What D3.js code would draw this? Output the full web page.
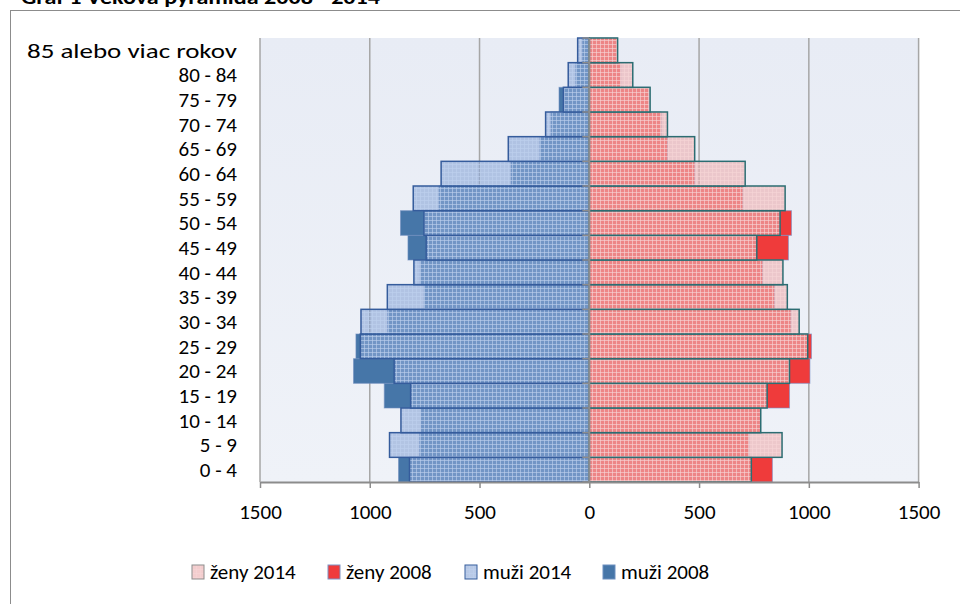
<!DOCTYPE html>
<meta charset="utf-8">
<script src="https://d3js.org/d3.v7.min.js"></script>
<style>
  body { margin: 0; background: #fff; }
  text { font-family: Carlito, Calibri, Lato, sans-serif; fill: #000; }
</style>
<div id="chart"></div>
<script>

// age groups, bottom to top
var categories = ["0 - 4", "5 - 9", "10 - 14", "15 - 19", "20 - 24", "25 - 29", "30 - 34",
  "35 - 39", "40 - 44", "45 - 49", "50 - 54", "55 - 59", "60 - 64", "65 - 69",
  "70 - 74", "75 - 79", "80 - 84", "85 alebo viac rokov"];

var muzi2014 = [819, 910, 858, 814, 889, 1043, 1040, 920, 799, 743, 753, 802, 675, 369, 199, 118, 96, 53];
var muzi2008 = [869, 773, 767, 934, 1074, 1063, 919, 752, 770, 826, 860, 685, 357, 225, 175, 138, 62, 32];
var zeny2014 = [738, 878, 781, 810, 912, 995, 956, 902, 882, 763, 869, 892, 710, 480, 356, 277, 198, 129];
var zeny2008 = [834, 727, 779, 912, 1005, 1012, 918, 843, 789, 907, 921, 699, 480, 356, 327, 272, 143, 128];

var xTicks = [-1500, -1000, -500, 0, 500, 1000, 1500];
var legendItems = ["ženy 2014", "ženy 2008", "muži 2014", "muži 2008"];

var W = 960, H = 604;
var plot = {left: 260, right: 918.6, top: 38, bottom: 482};

var svg = d3.select("#chart").append("svg")
    .attr("width", W)
    .attr("height", H);

var defs = svg.append("defs");

// background gradient of the plot area
var grad = defs.append("linearGradient").attr("id", "bg").attr("x1", 0).attr("y1", 0).attr("x2", 0).attr("y2", 1);
grad.append("stop").attr("offset", "0%").attr("stop-color", "#e8ecf5");
grad.append("stop").attr("offset", "100%").attr("stop-color", "#eff2f8");

// small grid patterns for the 2014 bars (semi transparent)
function gridPattern(id, base, line) {
  var p = defs.append("pattern").attr("id", id)
      .attr("width", 4).attr("height", 4)
      .attr("patternUnits", "userSpaceOnUse");
  p.append("rect").attr("width", 4).attr("height", 4).attr("fill", base);
  p.append("rect").attr("width", 4).attr("height", 1).attr("fill", line);
  p.append("rect").attr("width", 1).attr("height", 4).attr("fill", line);
}
gridPattern("patM", "rgba(140,168,214,0.62)", "rgba(190,208,238,0.62)");
gridPattern("patZ", "rgba(236,176,178,0.63)", "rgba(246,212,214,0.63)");

// chart frame + title
svg.append("rect")
    .attr("x", 10.5).attr("y", 10.5)
    .attr("width", 1000).attr("height", 700)
    .attr("fill", "#fff")
    .attr("stroke", "#8c8c8c");

svg.append("text")
    .attr("x", 21).attr("y", 4)
    .attr("textLength", 359)
    .attr("lengthAdjust", "spacingAndGlyphs")
    .style("font-size", "21px")
    .style("font-weight", "bold")
    .text("Graf 1 Veková pyramída 2008 - 2014");

var x = d3.scaleLinear().domain([-1500, 1500]).range([plot.left, plot.right]);
var y = d3.scaleBand().domain(categories.slice().reverse()).range([plot.top, plot.bottom]).padding(0);

svg.append("rect")
    .attr("x", plot.left).attr("y", plot.top)
    .attr("width", plot.right - plot.left).attr("height", plot.bottom - plot.top)
    .attr("fill", "url(#bg)");

// vertical gridlines
svg.append("g").selectAll("line")
  .data(xTicks.filter(function(d) { return d !== 0; }))
  .enter().append("line")
    .attr("x1", function(d) { return x(d); })
    .attr("x2", function(d) { return x(d); })
    .attr("y1", plot.top).attr("y2", plot.bottom)
    .attr("stroke", "#a6a6a6")
    .attr("stroke-width", 1.5);

var rows = categories.map(function(c, i) {
  return {cat: c, m14: muzi2014[i], m08: muzi2008[i], z14: zeny2014[i], z08: zeny2008[i]};
});

var bars = svg.append("g");

// 2008 solid bars first
bars.selectAll(".m08").data(rows).enter().append("rect")
    .attr("x", function(d) { return x(-d.m08); })
    .attr("y", function(d) { return y(d.cat); })
    .attr("width", function(d) { return x(0) - x(-d.m08); })
    .attr("height", y.bandwidth())
    .attr("fill", "#4676a8")
    .attr("stroke", "rgba(110,140,190,0.6)");

bars.selectAll(".z08").data(rows).enter().append("rect")
    .attr("x", x(0))
    .attr("y", function(d) { return y(d.cat); })
    .attr("width", function(d) { return x(d.z08) - x(0); })
    .attr("height", y.bandwidth())
    .attr("fill", "#ef3b3b")
    .attr("stroke", "rgba(120,145,200,0.6)");

// 2014 patterned bars on top
bars.selectAll(".m14").data(rows).enter().append("rect")
    .attr("x", function(d) { return x(-d.m14); })
    .attr("y", function(d) { return y(d.cat); })
    .attr("width", function(d) { return x(0) - x(-d.m14); })
    .attr("height", y.bandwidth())
    .attr("fill", "url(#patM)")
    .attr("stroke", "#355c9c")
    .attr("stroke-width", 1.5);

bars.selectAll(".z14").data(rows).enter().append("rect")
    .attr("x", x(0))
    .attr("y", function(d) { return y(d.cat); })
    .attr("width", function(d) { return x(d.z14) - x(0); })
    .attr("height", y.bandwidth())
    .attr("fill", "url(#patZ)")
    .attr("stroke", "#2c6d72")
    .attr("stroke-width", 1.5);

// central category axis with ticks on band boundaries
var bounds = y.domain().map(function(d) { return y(d); }).concat([plot.bottom]);
svg.append("g").selectAll("line")
  .data(bounds)
  .enter().append("line")
    .attr("x1", x(0) - 7).attr("x2", x(0))
    .attr("y1", function(d) { return d; })
    .attr("y2", function(d) { return d; })
    .attr("stroke", "#8c8c8c")
    .attr("stroke-width", 1.5);
svg.append("line")
    .attr("x1", x(0)).attr("x2", x(0))
    .attr("y1", plot.top).attr("y2", plot.bottom)
    .attr("stroke", "#8c8c8c")
    .attr("stroke-width", 2);

// category labels
svg.append("g").selectAll("text")
  .data(categories)
  .enter().append("text")
    .attr("x", 237)
    .attr("y", function(d) { return y(d) + y.bandwidth() / 2; })
    .attr("dy", "0.35em")
    .attr("text-anchor", "end")
    .style("font-size", "21px")
    .each(function(d) {
      if (d.length > 10) d3.select(this).attr("textLength", 210).attr("lengthAdjust", "spacingAndGlyphs");
    })
    .text(function(d) { return d; });

// bottom value axis
var xAxis = svg.append("g")
    .attr("transform", "translate(0," + plot.bottom + ")")
    .call(d3.axisBottom(x).tickValues(xTicks).tickSize(6).tickSizeOuter(0)
      .tickFormat(function(d) { return Math.abs(d); }));
xAxis.select(".domain").attr("stroke", "#8c8c8c").attr("stroke-width", 2);
xAxis.selectAll(".tick line").attr("stroke", "#8c8c8c").attr("stroke-width", 1.5);
xAxis.selectAll(".tick text")
    .attr("y", 22)
    .attr("dy", "0.71em")
    .style("font-size", "21px")
    .style("font-family", "Carlito, Calibri, Lato, sans-serif")
    .attr("fill", "#000");

// legend
var legendX = [192, 328, 465, 603];
var legendFill = ["url(#patZ)", "#ef3b3b", "url(#patM)", "#4676a8"];
var legendStroke = ["#8c8c8c", "#7f93c4", "#355c9c", "#6d8fbf"];
var lg = svg.append("g").selectAll("g")
  .data(legendItems)
  .enter().append("g")
    .attr("transform", function(d, i) { return "translate(" + legendX[i] + ",565)"; });
lg.append("rect")
    .attr("width", 12).attr("height", 14)
    .attr("fill", "#fff");
lg.append("rect")
    .attr("width", 12).attr("height", 14)
    .attr("fill", function(d, i) { return legendFill[i]; })
    .attr("stroke", function(d, i) { return legendStroke[i]; });
lg.append("text")
    .attr("x", 18).attr("y", 7)
    .attr("dy", "0.35em")
    .style("font-size", "21px")
    .text(function(d) { return d; });

</script>
